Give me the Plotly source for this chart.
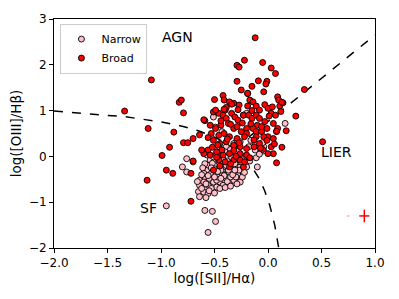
import numpy as np
import plotly.graph_objects as go

# Broad component points (log[SII]/Ha, log[OIII]/Hb)
broad_x = [-0.12, -1.09, -1.34, -1.12, -1.13, -0.99, -0.95, -0.92, -0.89, -0.88, -0.83, -0.81, -0.79, -0.79,
           -0.75, -0.70, -0.72, -0.72, -0.70, -0.64, -0.59, -0.50, -0.42, -0.29, -0.27, -0.22, -0.29, -0.25,
           -0.19, -0.15, -0.05, 0.03, 0.07, -0.09, -0.01, -0.04, 0.34, 0.26, 0.51, 0.17, 0.13, 0.08, 0.09, 0.10,
           -0.41, -0.39, -0.36, -0.32, -0.27, -0.19, -0.17, -0.14, -0.11, -0.08, -0.03, 0.00, 0.04, 0.11, 0.14,
           0.03, 0.07, -0.51, -0.46, -0.42, -0.39, -0.34, -0.31, -0.28, -0.23, -0.18, -0.15, -0.11, -0.08, -0.10,
           -0.03, 0.05, 0.09, 0.08, -0.54, -0.49, -0.44, -0.37, -0.32, -0.29, -0.25, -0.20, -0.14, -0.11, -0.06,
           -0.01, 0.00, -0.04, -0.11, -0.20, -0.22, -0.29, -0.36, -0.41, -0.46, -0.53, -0.56, -0.51, -0.45, -0.39,
           -0.32, -0.26, -0.20, -0.13, -0.08, -0.01, 0.05, 0.03, 0.05, 0.00, -0.56, -0.60, -0.54, -0.48, -0.42,
           -0.36, -0.32, -0.26, -0.20, -0.46, -0.40, -0.32, -0.26, -0.45, -0.36, -0.23, -0.51, -0.62, -0.40,
           -0.34, -0.02, -0.49, -0.19, 0.13, -0.60,
           -0.44, -0.35, -0.24, -0.16, -0.06, 0.01, 0.12, -0.47, -0.38, -0.27, -0.13, -0.05, 0.06, -0.43,
           -0.30, -0.17, -0.07, -0.48, -0.35, -0.22, -0.41, -0.28, -0.15, -0.52]
broad_y = [2.59, 1.67, 0.99, 0.61, -0.52, 0.02, -0.30, 0.20, -0.37, 0.53, 1.18, 1.23, 0.95, 0.30,
           0.30, -0.10, -0.37, -0.98, 0.39, 0.47, 0.78, 1.24, 1.33, 1.99, 1.95, 2.10, 1.64, 1.45,
           1.37, 1.53, 2.05, 1.93, 1.81, 1.65, 1.64, 1.41, 1.46, 0.88, 0.32, 0.56, 0.20, -0.14, 1.30, 1.23,
           1.23, 1.07, 1.19, 1.16, 1.12, 1.10, 1.23, 1.19, 1.10, 1.01, 1.13, 1.05, 1.08, 1.10, 1.17,
           0.94, 0.90, 0.97, 0.94, 0.90, 0.83, 0.94, 0.86, 0.79, 0.90, 0.90, 0.83, 0.90, 0.83, 0.68,
           0.76, 0.72, 0.61, 0.55, 0.68, 0.61, 0.68, 0.72, 0.61, 0.65, 0.54, 0.61, 0.61, 0.54, 0.54,
           0.61, 0.43, 0.43, 0.43, 0.50, 0.43, 0.39, 0.43, 0.50, 0.46, 0.50, 0.41, 0.35, 0.28, 0.32,
           0.24, 0.21, 0.17, 0.21, 0.28, 0.35, 0.39, 0.21, 0.06, 0.06, 0.14, 0.06, 0.03, 0.10, 0.03,
           0.06, 0.13, 0.06, 0.03, -0.08, -0.12, -0.08, -0.08, -0.21, -0.23, -0.23, -0.30, 0.14, 1.01,
           1.14, 1.58, 1.01, 1.38, 1.18, 0.80,
           0.78, 0.70, 0.73, 0.71, 0.65, 0.88, 0.98, 0.25, 0.38, 0.30, 0.36, 0.15, 0.27, 0.14,
           0.00, -0.03, 0.18, -0.02, -0.16, -0.12, 1.03, 1.02, 1.00, 0.20]

# Narrow component points
narrow_x = [-0.95, -0.59, -0.52, -0.49, -0.56, -0.76, -0.80, -0.76, -0.70, -0.64, -0.65, -0.64, -0.60, -0.56,
            -0.64, -0.59, -0.57, -0.56, -0.53, -0.51, -0.48, -0.45, -0.42, -0.39, -0.36, -0.32, -0.26, -0.28,
            -0.32, -0.37, -0.43, -0.48, -0.50, -0.45, -0.40, -0.20, -0.10, -0.11, -0.31, -0.26, -0.54, -0.59,
            -0.60, -0.56, -0.53, -0.48, -0.60, -0.51, -0.45, -0.39, -0.32, -0.26, -0.18, -0.12, -0.04, -0.12,
            -0.04, -0.51, -0.49, -0.43, -0.20, 0.16, -0.29, 0.08, -0.23,
            -0.62, -0.58, -0.55, -0.52, -0.47, -0.44, -0.41, -0.38, -0.35, -0.34, -0.30, -0.29, -0.27, -0.24,
            -0.22, -0.46, -0.42, -0.38, -0.34, -0.30, -0.25, -0.22, -0.17, -0.58, -0.55, -0.50, -0.45, -0.40,
            -0.35, -0.62, -0.66, -0.57, -0.48, -0.40, -0.35, -0.16, -0.08, -0.28, -0.05,
            -0.53, -0.47, -0.43, -0.37, -0.33, -0.44, -0.50, -0.56, -0.61, -0.39, -0.31, -0.25]
narrow_y = [-1.08, -1.18, -1.20, -1.42, -1.66, -0.05, -0.23, -0.34, -0.12, -0.63, -0.77, -0.88, -0.78, -0.81,
            -0.52, -0.45, -0.30, -0.19, -0.37, -0.56, -0.67, -0.56, -0.63, -0.48, -0.59, -0.52, -0.56, -0.41,
            -0.37, -0.34, -0.37, -0.37, -0.27, -0.23, -0.23, -0.23, -0.23, -0.03, -0.16, -0.23, -0.08, -0.16,
            -0.37, -0.63, -0.70, -0.52, -0.56, -0.01, 0.17, 0.21, 0.28, 0.32, 0.21, 0.28, 0.21, 0.14,
            0.12, 0.86, 0.64, 0.54, 0.94, 0.72, 0.35, 0.54, 0.90,
            -0.70, -0.60, -0.48, -0.15, -0.45, -0.30, -0.42, -0.55, -0.45, -0.28, -0.45, -0.60, -0.30, -0.45,
            -0.35, -0.12, -0.05, -0.10, -0.02, 0.05, -0.12, 0.00, -0.10, -0.90, -0.75, -0.80, -0.70, -0.68,
            -0.65, -0.40, -0.55, 0.03, 0.05, 0.10, 0.15, 0.35, 0.05, 0.12, 0.30,
            -0.25, -0.33, -0.18, -0.30, -0.40, -0.48, -0.45, -0.42, -0.25, -0.20, -0.30, -0.05]

# Typical uncertainties (shown at bottom right)
err_broad = dict(x=0.90, y=-1.30, ex=0.047, ey=0.14)
err_narrow = dict(x=0.75, y=-1.30, ex=0.015, ey=0.02)

fig = go.Figure()

# Kewley et al. (2006) demarcation lines
xc = np.linspace(-2.0, 0.3, 600)
yc = 0.72 / (xc - 0.32) + 1.30
m = yc >= -2.2
fig.add_trace(go.Scatter(x=xc[m], y=yc[m], mode="lines", line=dict(color="black", dash="dash", width=1.5),
                         showlegend=False, hoverinfo="skip"))
xl = np.linspace(-0.31, 1.0, 50)
fig.add_trace(go.Scatter(x=xl, y=1.89 * xl + 0.76, mode="lines",
                         line=dict(color="black", dash="dash", width=1.5), showlegend=False, hoverinfo="skip"))

fig.add_trace(go.Scatter(x=narrow_x, y=narrow_y, mode="markers", name="Narrow",
                         marker=dict(color="pink", size=6, line=dict(color="black", width=0.9))))
fig.add_trace(go.Scatter(x=broad_x, y=broad_y, mode="markers", name="Broad",
                         marker=dict(color="red", size=6, line=dict(color="black", width=0.9))))

fig.add_trace(go.Scatter(x=[err_narrow["x"]], y=[err_narrow["y"]], mode="markers", showlegend=False,
                         marker=dict(size=1, color="pink"),
                         error_x=dict(type="constant", value=err_narrow["ex"], color="pink", width=0, thickness=1.5),
                         error_y=dict(type="constant", value=err_narrow["ey"], color="pink", width=0, thickness=1.5)))
fig.add_trace(go.Scatter(x=[err_broad["x"]], y=[err_broad["y"]], mode="markers", showlegend=False,
                         marker=dict(size=1, color="red"),
                         error_x=dict(type="constant", value=err_broad["ex"], color="red", width=0, thickness=1.5),
                         error_y=dict(type="constant", value=err_broad["ey"], color="red", width=0, thickness=1.5)))

for txt, x, y in [("AGN", -0.85, 2.6), ("SF", -1.12, -1.12), ("LIER", 0.64, 0.09)]:
    fig.add_annotation(x=x, y=y, text=txt, showarrow=False, font=dict(size=14, color="black"))

axis_common = dict(showline=True, linecolor="black", linewidth=1, mirror=True, ticks="outside",
                   ticklen=4, tickcolor="black", showgrid=False, zeroline=False, automargin=False,
                   tickfont=dict(size=12, color="black"), title_font=dict(size=13.5, color="black"))
fig.update_xaxes(range=[-2.0, 1.0], tickvals=[-2.0, -1.5, -1.0, -0.5, 0.0, 0.5, 1.0],
                 tickformat=".1f", title=dict(text="log([SII]/Hα)", standoff=2), **axis_common)
fig.update_yaxes(range=[-2, 3], tickvals=[-2, -1, 0, 1, 2, 3],
                 title=dict(text="log([OIII]/Hβ)", standoff=4), **axis_common)

# page body has an 8px default margin, so the figure is sized to fit the 399x299 window
fig.update_layout(width=391, height=291, margin=dict(l=46, r=24, t=11, b=51, autoexpand=False),
                  plot_bgcolor="white", paper_bgcolor="white",
                  font=dict(family="DejaVu Sans", color="black"),
                  legend=dict(x=0.02, y=0.98, xanchor="left", yanchor="top", bgcolor="white",
                              bordercolor="#cccccc", borderwidth=1, font=dict(size=11),
                              itemwidth=30, tracegroupgap=0))
fig.write_html("out.html")
